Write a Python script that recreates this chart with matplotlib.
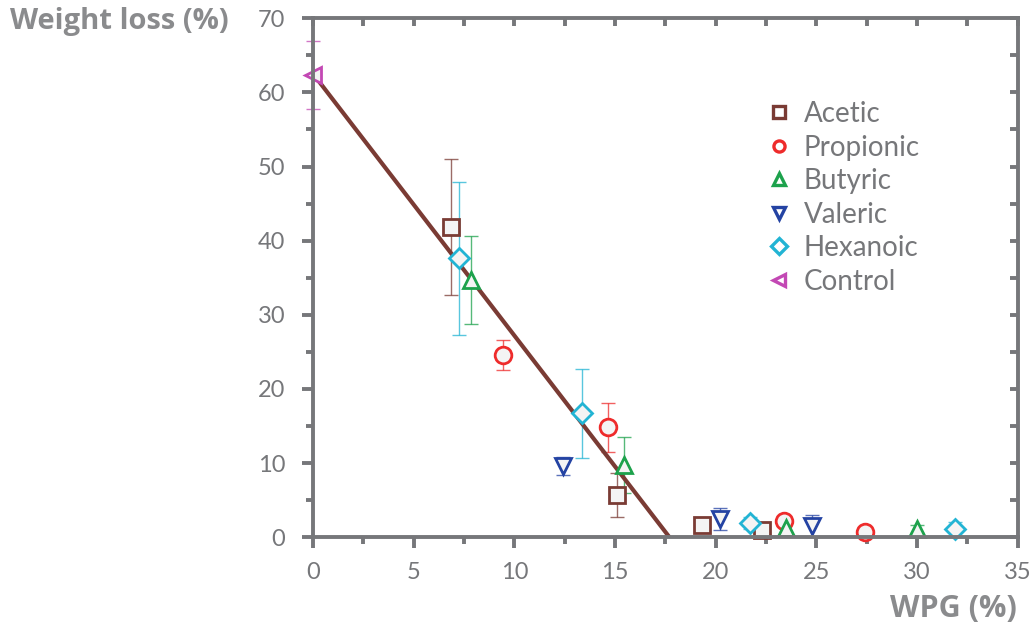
import numpy as np
import matplotlib.pyplot as plt

plt.rcParams['font.family'] = ['Lato', 'DejaVu Sans']

# data
acetic_x = [6.85, 15.1, 19.3, 22.3]
acetic_y = [41.8, 5.7, 1.7, 1.0]
acetic_err = [9.2, 3.0, 0.0, 0.8]

propionic_x = [9.45, 14.65, 23.4, 27.4]
propionic_y = [24.6, 14.8, 2.2, 0.7]
propionic_err = [2.0, 3.3, 0.0, 0.5]

butyric_x = [7.85, 15.45, 23.5, 30.0]
butyric_y = [34.7, 9.7, 1.3, 1.1]
butyric_err = [5.9, 3.8, 1.0, 0.6]

valeric_x = [12.4, 20.2, 24.8]
valeric_y = [9.6, 2.5, 1.5]
valeric_err = [1.2, 1.5, 1.5]

hexanoic_x = [7.25, 13.35, 21.7, 31.9]
hexanoic_y = [37.6, 16.7, 1.9, 1.1]
hexanoic_err = [10.3, 6.0, 0.8, 1.0]

control_x = [0.0]
control_y = [62.3]
control_err = [4.6]

fit_x = [0.0, 17.7]
fit_y = [62.5, 0.0]

series = [
    ('Acetic', acetic_x, acetic_y, acetic_err, 's', '#7a3b34'),
    ('Propionic', propionic_x, propionic_y, propionic_err, 'o', '#ee2b2b'),
    ('Butyric', butyric_x, butyric_y, butyric_err, '^', '#1da24c'),
    ('Valeric', valeric_x, valeric_y, valeric_err, 'v', '#2443a3'),
    ('Hexanoic', hexanoic_x, hexanoic_y, hexanoic_err, 'D', '#22b4d4'),
    ('Control', control_x, control_y, control_err, '<', '#c348b4'),
]

grey = '#76777a'

fig = plt.figure(figsize=(10.30, 6.29), dpi=100)
ax = fig.add_axes([0.304, 0.146, 0.684, 0.825])

ax.plot(fit_x, fit_y, color='#7a3b34', lw=3, zorder=3, solid_capstyle='butt')

for name, x, y, e, m, c in series:
    ms = 12 if m != 'D' else 10
    ax.errorbar(x, y, yerr=e, fmt='none', ecolor=c, elinewidth=1, capsize=5,
                capthick=1, alpha=0.75, zorder=2, clip_on=False)
    ax.plot(x, y, linestyle='none', marker=m, ms=ms, mfc='#f4f4f4', mec=c,
            mew=2, zorder=4, clip_on=False)
    # legend handle
    ax.plot([], [], linestyle='none', marker=m, ms=8, mfc='white', mec=c,
            mew=2.4, label=name)

ax.set_xlim(0, 35)
ax.set_ylim(0, 70)
ax.set_xticks(np.arange(0, 36, 5))
ax.set_yticks(np.arange(0, 71, 10))
ax.set_xticks(np.arange(0, 36, 2.5), minor=True)
ax.set_yticks(np.arange(0, 71, 5), minor=True)

for s in ax.spines.values():
    s.set_color(grey)
    s.set_linewidth(2.8)
    s.set_zorder(5)

ax.tick_params(which='both', direction='out', color=grey, width=2.8,
               labelcolor=grey, labelsize=17, top=False, right=False)
ax.tick_params(which='major', length=8)
ax.tick_params(which='minor', length=5)
ax.tick_params(axis='x', which='major', pad=10)
ax.tick_params(axis='y', which='major', pad=12)

# inward ticks on top/right
ax2 = ax.secondary_xaxis('top')
ax2.set_xticks(np.arange(0, 36, 2.5))
ax2.tick_params(direction='in', length=6, width=2.8, color=grey, labeltop=False)
ax2.spines['top'].set_visible(False)
ax3 = ax.secondary_yaxis('right')
ax3.set_yticks(np.arange(0, 71, 5))
ax3.tick_params(direction='in', length=6, width=2.8, color=grey, labelright=False)
ax3.spines['right'].set_visible(False)

leg = ax.legend(loc='upper left', bbox_to_anchor=(0.732, 0.857),
                bbox_transform=fig.transFigure, frameon=False, fontsize=20,
                handletextpad=0.4, labelspacing=0.27, handlelength=1.0,
                borderaxespad=0)
for t in leg.get_texts():
    t.set_color(grey)

fig.text(0.01, 0.966, 'Weight loss (%)', fontsize=21, fontweight='bold',
         family=['Open Sans', 'DejaVu Sans'], color='#8a8b8d',
         ha='left', va='center')
fig.text(0.987, 0.032, 'WPG (%)', fontsize=22, fontweight='bold',
         family=['Open Sans', 'DejaVu Sans'], color='#8a8b8d',
         ha='right', va='center')

fig.savefig('out.png', dpi=100)
